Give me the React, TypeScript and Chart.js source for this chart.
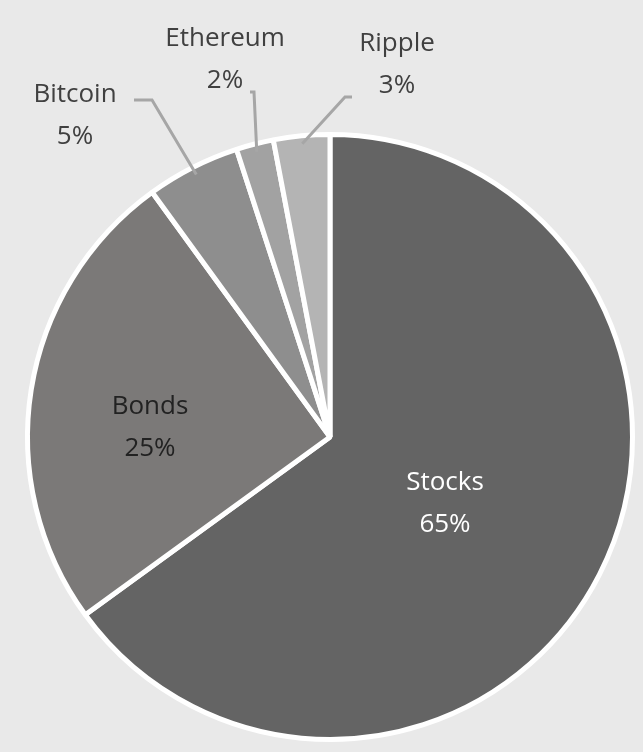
import { useEffect, useRef } from 'react';
import Chart from 'chart.js/auto';

const categories = ['Stocks', 'Bonds', 'Bitcoin', 'Ethereum', 'Ripple'];
const shares = [65, 25, 5, 2, 3];
const sliceColors = ['#646464', '#7b7978', '#8e8e8e', '#a2a2a2', '#b4b4b4'];

// label anchor (text centre) and leader elbow, null = inside slice
const labelSpots: Record<string, { x: number; y: number; elbow?: [number, number][]; color: string }> = {
  Stocks: { x: 445, y: 504, color: '#ffffff' },
  Bonds: { x: 150, y: 428, color: '#222222' },
  Bitcoin: { x: 75, y: 116, elbow: [[134, 100], [152, 100]], color: '#404040' },
  Ethereum: { x: 225, y: 60, elbow: [[250, 92], [254, 92]], color: '#404040' },
  Ripple: { x: 397, y: 65, elbow: [[352, 97], [345, 97]], color: '#404040' },
};

const labelPlugin = {
  id: 'sliceLabels',
  afterDatasetsDraw(chart: any) {
    const ctx = chart.ctx;
    const meta = chart.getDatasetMeta(0);
    ctx.save();
    ctx.font = '26px "Open Sans", "DejaVu Sans", sans-serif';
    ctx.textAlign = 'center';
    ctx.textBaseline = 'middle';
    meta.data.forEach((arc: any, i: number) => {
      const name = categories[i];
      const spot = labelSpots[name];
      if (spot.elbow) {
        const mid = (arc.startAngle + arc.endAngle) / 2;
        const r = arc.outerRadius - 8;
        ctx.strokeStyle = '#a6a6a6';
        ctx.lineWidth = 3;
        ctx.beginPath();
        ctx.moveTo(spot.elbow[0][0], spot.elbow[0][1]);
        ctx.lineTo(spot.elbow[1][0], spot.elbow[1][1]);
        ctx.lineTo(arc.x + Math.cos(mid) * r, arc.y + Math.sin(mid) * r);
        ctx.stroke();
      }
      ctx.fillStyle = spot.color;
      ctx.fillText(name, spot.x, spot.y - 21);
      ctx.fillText(shares[i] + '%', spot.x, spot.y + 21);
    });
    ctx.restore();
  },
};

export default function App() {
  const chartRef = useRef<HTMLCanvasElement | null>(null);
  const chartInstance = useRef<Chart | null>(null);

  useEffect(() => {
    document.body.style.margin = '0';
    if (!chartRef.current) return
    if (chartInstance.current) chartInstance.current.destroy()
    const ctx = chartRef.current.getContext('2d')
    if (!ctx) return

    chartInstance.current = new Chart(ctx, {
      type: 'pie',
      data: {
        labels: categories,
        datasets: [
          {
            data: shares,
            backgroundColor: sliceColors,
            borderColor: '#ffffff',
            borderWidth: 5,
          },
        ],
      },
      options: {
        responsive: false,
        animation: false,
        layout: { padding: { left: 25, right: 8, top: 132, bottom: 10 } },
        plugins: {
          legend: { display: false },
          tooltip: { enabled: false },
        },
      },
      plugins: [labelPlugin],
    })

    return () => {
      if (chartInstance.current) chartInstance.current.destroy()
    }
  }, [])

  return (
    <div style={{ width: 643, height: 752, background: '#e9e9e9' }}>
      <canvas ref={chartRef} width={643} height={752}></canvas>
    </div>
  )
}
